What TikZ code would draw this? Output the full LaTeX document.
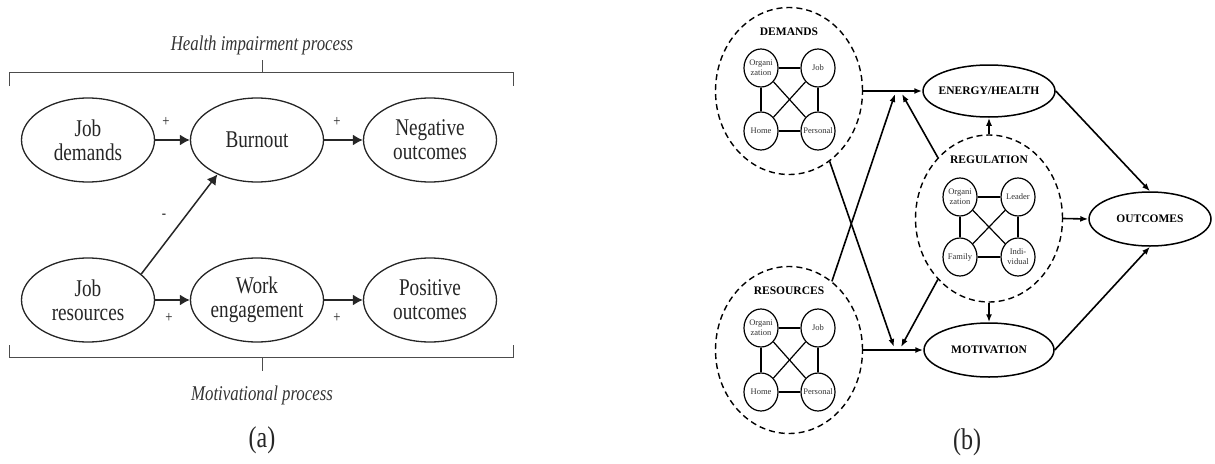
\documentclass[tikz,border=0pt]{standalone}
\usepackage{fontspec}
\setmainfont{Liberation Serif}
\newfontfamily\afont[FakeStretch=0.8]{Liberation Serif}
\usetikzlibrary{shapes.geometric,arrows.meta}
\begin{document}
\begin{tikzpicture}[x=1pt,y=-1pt,
  aell/.style={draw=black!85, line width=1.3pt, ellipse, minimum width=133pt, minimum height=84pt, inner sep=0pt},
  atxt/.style={align=center, text=black!85, font=\afont\fontsize{24}{24}\selectfont},
  aarr/.style={line width=1.5pt, draw=black!85, -{Latex[length=10pt,width=11pt]}},
  sign/.style={font=\afont\fontsize{16}{16}\selectfont, text=black!85},
  brk/.style={line width=0.9pt, draw=black!70},
  proc/.style={font=\afont\itshape\fontsize{21}{21}\selectfont, text=black!80},
  capt/.style={font=\afont\fontsize{30}{30}\selectfont, text=black!85},
  grp/.style={draw, dash pattern=on 6pt off 4pt, line width=1.4pt, ellipse, minimum width=147pt, minimum height=167pt, inner sep=0pt},
  grptitle/.style={font=\bfseries\fontsize{11.5}{12}\selectfont},
  sub/.style={draw, line width=1.2pt, ellipse, minimum width=34pt, minimum height=38pt, inner sep=0pt},
  subtxt/.style={align=center, font=\fontsize{8.5}{10}\selectfont, text=black!80},
  link/.style={line width=1.2pt},
  big/.style={draw, line width=1.5pt, ellipse, inner sep=0pt},
  bigtxt/.style={font=\bfseries\fontsize{11.5}{12}\selectfont},
  barr/.style={line width=1.6pt, -{Latex[length=8pt,width=6pt]}}
]
\useasboundingbox (0,0) rectangle (1215,463);

% ---------------- panel (a) ----------------
\node[proc] (hip) at (262,45) {Health impairment process};
\draw[brk] (9,86) -- (9,72) -- (513,72) -- (513,86);
\draw[brk] (262,72) -- (262,60);

\node[aell, label={[atxt]center:Job\\demands}] (jd) at (88,140) {};
\node[aell, label={[atxt]center:Burnout}] (bo) at (257,140) {};
\node[aell, label={[atxt]center:Negative\\outcomes}] (no) at (430,140) {};
\node[aell, label={[atxt]center:Job\\resources}] (jr) at (88,300) {};
\node[aell, label={[atxt]center:Work\\engagement}] (we) at (257,300) {};
\node[aell, label={[atxt]center:Positive\\outcomes}] (po) at (430,300) {};

\draw[aarr] (jd) -- (bo);
\draw[aarr] (bo) -- (no);
\draw[aarr] (jr) -- (we);
\draw[aarr] (we) -- (po);
\draw[aarr] (jr.26) -- (bo.221);

\node[sign] (s1) at (166,122) {+};
\node[sign] (s2) at (337,122) {+};
\node[sign] (s3) at (169,318) {+};
\node[sign] (s4) at (337,318) {+};
\node[sign] (s5) at (164,216) {-};

\draw[brk] (9,345) -- (9,357) -- (513,357) -- (513,345);
\draw[brk] (262,357) -- (262,371);
\node[proc] (mp) at (262,395) {Motivational process};
\node[capt] (capa) at (262,440) {(a)};

% ---------------- panel (b) ----------------
\node[grp] (dem) at (789,91) {};
\node[grptitle] (demt) at (789,32) {DEMANDS};
\node[sub, label={[subtxt]center:Organi\\zation}] (d1) at (761,68) {};
\node[sub, label={[subtxt]center:Job}] (d2) at (818,68) {};
\node[sub, label={[subtxt]center:Home}] (d3) at (761,131) {};
\node[sub, label={[subtxt]center:Personal}] (d4) at (818,131) {};
\draw[link] (d1) -- (d2); \draw[link] (d3) -- (d4);
\draw[link] (d1) -- (d3); \draw[link] (d2) -- (d4);
\draw[link] (d1) -- (d4); \draw[link] (d2) -- (d3);

\node[grp] (res) at (789,350) {};
\node[grptitle] (rest) at (789,291) {RESOURCES};
\node[sub, label={[subtxt]center:Organi\\zation}] (r1) at (761,328) {};
\node[sub, label={[subtxt]center:Job}] (r2) at (818,328) {};
\node[sub, label={[subtxt]center:Home}] (r3) at (761,392) {};
\node[sub, label={[subtxt]center:Personal}] (r4) at (818,392) {};
\draw[link] (r1) -- (r2); \draw[link] (r3) -- (r4);
\draw[link] (r1) -- (r3); \draw[link] (r2) -- (r4);
\draw[link] (r1) -- (r4); \draw[link] (r2) -- (r3);

\node[grp] (reg) at (989,218.5) {};
\node[grptitle] (regt) at (989,160) {REGULATION};
\node[sub, label={[subtxt]center:Organi\\zation}] (g1) at (960,197) {};
\node[sub, label={[subtxt]center:Leader}] (g2) at (1018,197) {};
\node[sub, label={[subtxt]center:Family}] (g3) at (960,257) {};
\node[sub, label={[subtxt]center:Indi-\\vidual}] (g4) at (1018,257) {};
\draw[link] (g1) -- (g2); \draw[link] (g3) -- (g4);
\draw[link] (g1) -- (g3); \draw[link] (g2) -- (g4);
\draw[link] (g1) -- (g4); \draw[link] (g2) -- (g3);

\node[big, minimum width=132pt, minimum height=52pt, label={[bigtxt]center:ENERGY/HEALTH}] (eh) at (989,91) {};
\node[big, minimum width=130pt, minimum height=54pt, label={[bigtxt]center:MOTIVATION}] (mot) at (989,350) {};
\node[big, minimum width=122pt, minimum height=54pt, label={[bigtxt]center:OUTCOMES}] (out) at (1150,219) {};

\coordinate (ct1) at (895,94);
\coordinate (ct2) at (902,94);
\coordinate (cb1) at (894,347);
\coordinate (cb2) at (901,347);

\draw[barr] (dem.east) -- (eh.west);
\draw[barr] (res.east) -- (mot.west);
\draw[barr] (res.58) -- (ct1);
\draw[barr] (reg.130) -- (ct2);
\draw[barr] (dem.-60) -- (cb1);
\draw[barr] (reg.230) -- (cb2);
\draw[barr] (reg.north) -- (eh.south);
\draw[barr] (reg.south) -- (mot.north);
\draw[barr] (reg.east) -- (out.west);
\draw[barr] (eh.east) -- (out.north);
\draw[barr] (mot.east) -- (out.south);

\node[capt] (capb) at (967,442) {(b)};
\end{tikzpicture}
\end{document}
